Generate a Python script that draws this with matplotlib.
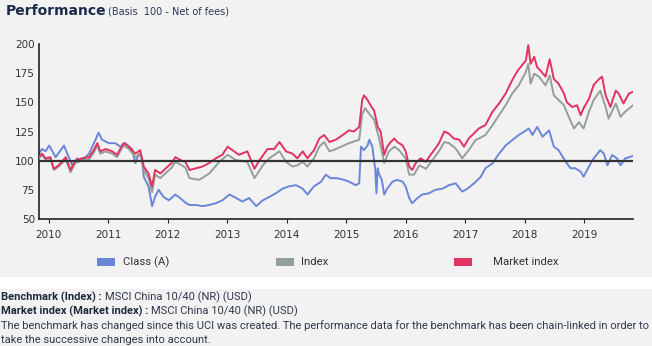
import matplotlib
matplotlib.use("Agg")
import matplotlib.pyplot as plt
from matplotlib.patches import Rectangle

##################################################################
# values (decimal years, basis 100)

class_t = [2009.84, 2009.89, 2009.95, 2010.01, 2010.12, 2010.26, 2010.34, 2010.40,
           2010.48, 2010.56, 2010.68, 2010.79, 2010.84, 2010.90, 2011.01, 2011.12,
           2011.21, 2011.29, 2011.40, 2011.46, 2011.52, 2011.57, 2011.60, 2011.68,
           2011.74, 2011.79, 2011.85, 2011.93, 2012.02, 2012.13, 2012.21, 2012.30,
           2012.37, 2012.48, 2012.59, 2012.70, 2012.81, 2012.92, 2013.04, 2013.15,
           2013.26, 2013.37, 2013.49, 2013.60, 2013.71, 2013.82, 2013.93, 2014.04,
           2014.16, 2014.27, 2014.35, 2014.46, 2014.58, 2014.66, 2014.74, 2014.85,
           2014.97, 2015.05, 2015.16, 2015.22, 2015.25, 2015.30, 2015.36, 2015.39,
           2015.44, 2015.49, 2015.51, 2015.53, 2015.55, 2015.60, 2015.64, 2015.69,
           2015.78, 2015.86, 2015.95, 2016.00, 2016.06, 2016.11, 2016.20, 2016.28,
           2016.39, 2016.50, 2016.62, 2016.73, 2016.84, 2016.95, 2017.04, 2017.15,
           2017.26, 2017.34, 2017.46, 2017.57, 2017.68, 2017.79, 2017.90, 2017.99,
           2018.07, 2018.13, 2018.21, 2018.30, 2018.41, 2018.49, 2018.57, 2018.69,
           2018.77, 2018.85, 2018.94, 2018.99, 2019.08, 2019.16, 2019.27, 2019.33,
           2019.39, 2019.47, 2019.55, 2019.61, 2019.69, 2019.82]
class_v = [106, 110, 108, 113, 103, 113, 103, 96,
           102, 100, 106, 118, 124, 118, 115, 115,
           112, 115, 110, 98, 106, 102, 86, 78,
           61, 69, 75, 69, 66, 71, 68, 64,
           62, 62, 61, 62, 63.5, 66, 71, 68,
           65, 68, 61, 66, 69, 72, 76, 78,
           79, 76, 71, 78, 82, 88, 85, 85,
           83.5, 82, 79, 80.6, 112, 109, 113, 118,
           112, 92, 72, 93.5, 89, 83.5, 71, 76,
           82, 83.5, 82, 78, 68, 63.5, 68, 71,
           72, 75, 76, 79, 80.6, 73.5, 76, 80.6,
           86, 93.5, 97.7, 106, 113, 117.6, 122, 124.8,
           127.6, 122, 129, 120.5, 126, 112, 109, 99,
           93.5, 93.5, 90.6, 86.3, 95, 102, 109, 106,
           96, 104.8, 102, 96, 102, 104]

index_t = [2009.84, 2009.89, 2009.95, 2010.03, 2010.09, 2010.17, 2010.29, 2010.37,
           2010.45, 2010.56, 2010.68, 2010.76, 2010.82, 2010.87, 2010.96, 2011.07,
           2011.15, 2011.26, 2011.35, 2011.46, 2011.54, 2011.60, 2011.68, 2011.74,
           2011.79, 2011.88, 2011.96, 2012.07, 2012.13, 2012.24, 2012.30,
           2012.37, 2012.53, 2012.70, 2012.87, 2013.01, 2013.15, 2013.34, 2013.46,
           2013.60, 2013.71, 2013.88, 2013.99, 2014.10, 2014.18, 2014.27, 2014.35,
           2014.46, 2014.55, 2014.63, 2014.72, 2014.83,
           2015.05, 2015.22, 2015.27, 2015.32, 2015.39, 2015.47, 2015.55, 2015.64,
           2015.72, 2015.81, 2015.89, 2016.00, 2016.06, 2016.14, 2016.23, 2016.34,
           2016.45, 2016.56, 2016.65, 2016.73, 2016.84, 2016.95, 2017.06, 2017.18,
           2017.23, 2017.34, 2017.46, 2017.57, 2017.68, 2017.79, 2017.90, 2018.02,
           2018.06, 2018.10, 2018.16, 2018.24, 2018.35, 2018.42, 2018.49, 2018.57,
           2018.66, 2018.74, 2018.83, 2018.91, 2018.99, 2019.08, 2019.16, 2019.27,
           2019.36, 2019.41, 2019.53, 2019.61, 2019.69, 2019.82]
index_v = [102, 105, 101, 102, 92, 95, 101, 90,
           98, 100, 101, 107, 113, 106, 108, 106,
           103, 113, 110, 103, 106, 92, 85, 73,
           88, 85, 89, 94, 99, 96, 94,
           85, 83.5, 89, 99, 105, 100.5, 99, 85,
           96, 102, 108, 99, 95, 96, 99, 95,
           102, 112, 116, 108, 110,
           115, 118, 140, 145, 140, 135, 120, 98,
           108, 112, 109, 102, 88, 88, 96, 93,
           100.5, 108, 116, 115, 110.5, 102, 109, 118,
           119, 122, 130.5, 139, 147.5, 157.5, 164.6, 176,
           183, 166, 174.6, 172, 164.6, 173, 156, 152,
           147.5, 137.6, 127.6, 133, 127.6, 142, 152, 160,
           146, 136, 149, 137.6, 142, 147.5]

market_t = [2009.84, 2009.89, 2009.95, 2010.03, 2010.09, 2010.17, 2010.29, 2010.37,
            2010.45, 2010.56, 2010.68, 2010.76, 2010.82, 2010.87, 2010.96, 2011.07,
            2011.15, 2011.26, 2011.35, 2011.46, 2011.54, 2011.60, 2011.68, 2011.74,
            2011.79, 2011.88, 2011.96, 2012.07, 2012.13, 2012.24, 2012.30,
            2012.37, 2012.48, 2012.59, 2012.70, 2012.81, 2012.92, 2013.01, 2013.09,
            2013.20, 2013.34, 2013.46, 2013.54, 2013.68, 2013.79, 2013.88, 2013.99,
            2014.10, 2014.18, 2014.27, 2014.35, 2014.46, 2014.55, 2014.63, 2014.72,
            2014.83, 2014.97, 2015.05, 2015.13, 2015.22, 2015.27, 2015.30, 2015.36,
            2015.41, 2015.47, 2015.53, 2015.58, 2015.64, 2015.69, 2015.75, 2015.81,
            2015.86, 2015.95, 2016.00, 2016.06, 2016.11, 2016.17, 2016.25, 2016.34,
            2016.42, 2016.50, 2016.56, 2016.65, 2016.73, 2016.81, 2016.90, 2016.98,
            2017.06, 2017.18, 2017.23, 2017.34, 2017.46, 2017.57, 2017.68, 2017.79,
            2017.88, 2017.96, 2018.02, 2018.06, 2018.10, 2018.16, 2018.21, 2018.27,
            2018.35, 2018.42, 2018.49, 2018.57, 2018.66, 2018.71, 2018.80, 2018.88,
            2018.94, 2018.99, 2019.08, 2019.16, 2019.25, 2019.30, 2019.36, 2019.44,
            2019.53, 2019.58, 2019.66, 2019.75, 2019.82]
market_v = [103, 106, 102, 103, 93, 96, 103, 92,
            100, 102, 103, 109, 115, 108, 110, 108,
            105, 115, 112, 106, 109, 95, 89, 78,
            92, 89, 93, 98, 103, 100, 99,
            92, 93.5, 95, 98, 102, 105, 112, 109,
            105, 108, 93, 100, 110, 110, 116, 108,
            106, 102, 108, 102, 109, 119, 122, 116,
            118, 123, 126, 125, 129, 152, 156, 152,
            147.5, 143, 129, 125, 105, 112, 116, 119,
            116, 113, 108, 95, 92, 98, 102, 99,
            105, 110.5, 115, 125, 123, 119, 118, 112,
            119, 125, 127.6, 130.5, 142, 149, 157.5, 169,
            177, 182, 186, 199, 183, 189, 180, 177,
            172, 187, 170, 166, 157.5, 150, 146, 147.5,
            139, 145, 153, 165, 170, 172, 156, 146,
            160, 157.5, 149, 157.5, 159]

years = list(range(2010, 2020))
y_ticks = [50, 75, 100, 125, 150, 175, 200]
legend_labels = ["Class (A)", "Index", "Market index"]
colors = ["#6a86d8", "#959f99", "#e1335f"]

notes_bold = ["Benchmark (Index) :", "Market index (Market index) :"]
notes_text = ["MSCI China 10/40 (NR) (USD)", "MSCI China 10/40 (NR) (USD)"]
disclaimer = ["The benchmark has changed since this UCI was created. The performance data "
              "for the benchmark has been chain-linked in order to",
              "take the successive changes into account."]

##################################################################
# figure

W, H = 652, 346
BG = "#f2f2f2"
NOTE_FONT = ["Roboto", "DejaVu Sans"]
fig = plt.figure(figsize=(W / 100, H / 100), dpi=100, facecolor=BG)

# white band between legend and notes
fig.patches.append(Rectangle((0, 1 - 289 / H), 1, 12 / H, transform=fig.transFigure,
                             facecolor="white", edgecolor="none", zorder=0))

ax = fig.add_axes([39 / W, 1 - 219 / H, (633 - 39) / W, 175 / H])
ax.set_facecolor(BG)

ax.plot(class_t, class_v, color=colors[0], lw=1.4, zorder=2)
ax.plot(index_t, index_v, color=colors[1], lw=1.4, zorder=3)
ax.plot(market_t, market_v, color=colors[2], lw=1.4, zorder=4)
ax.axhline(100, color="#333333", lw=1.6, zorder=5)

ax.set_xlim(2009.84, 2019.82)
ax.set_ylim(50, 200)
ax.set_xticks(years)
ax.set_xticklabels([str(y) for y in years])
ax.set_yticks(y_ticks)

for s in ("top", "right"):
  ax.spines[s].set_visible(False)
for s in ("left", "bottom"):
  ax.spines[s].set_color("#222222")
  ax.spines[s].set_linewidth(1.2)
ax.tick_params(axis="x", length=3, width=0.8, color="#222222", pad=5,
               labelsize=7.5, labelcolor="#333333")
ax.tick_params(axis="y", length=0, pad=3, labelsize=7.5, labelcolor="#333333")

# title
fig.text(6 / W, 1 - 15 / H, "Performance", fontsize=10, fontweight="bold",
         color="#1d2b4b", va="baseline")
fig.text(108 / W, 1 - 15 / H, "(Basis  100 - Net of fees)", fontsize=7,
         color="#2c3a58", va="baseline")

# legend
patch_x = [97, 276, 454]
text_x = [123, 301, 493]
for px, tx, lab, c in zip(patch_x, text_x, legend_labels, colors):
  fig.patches.append(Rectangle((px / W, 1 - 266 / H), 18 / W, 8 / H,
                               transform=fig.transFigure, facecolor=c,
                               edgecolor="none"))
  fig.text(tx / W, 1 - 262 / H, lab, fontsize=8.2, color="#333333", va="center",
           family=NOTE_FONT)

# notes : long line fitted to the figure width
renderer = fig.canvas.get_renderer()
t = fig.text(1 / W, 1 - 326 / H, disclaimer[0], fontsize=8, color="#2f3a4a",
             va="center", family=NOTE_FONT)
fs = 8 * 648 / t.get_window_extent(renderer).width
t.set_fontsize(fs)
fig.text(1 / W, 1 - 340 / H, disclaimer[1], fontsize=fs, color="#2f3a4a",
         va="center", family=NOTE_FONT)

for y, b, n in zip([297, 311], notes_bold, notes_text) :
  tb = fig.text(1 / W, 1 - y / H, b, fontsize=fs, fontweight="bold",
                color="#1f2a3c", va="center", family=NOTE_FONT)
  bb = tb.get_window_extent(renderer)
  fig.text((bb.x1 + 3) / W, 1 - y / H, n, fontsize=fs, color="#2f3a4a",
           va="center", family=NOTE_FONT)

fig.savefig("out.png", dpi=100, facecolor=BG)
